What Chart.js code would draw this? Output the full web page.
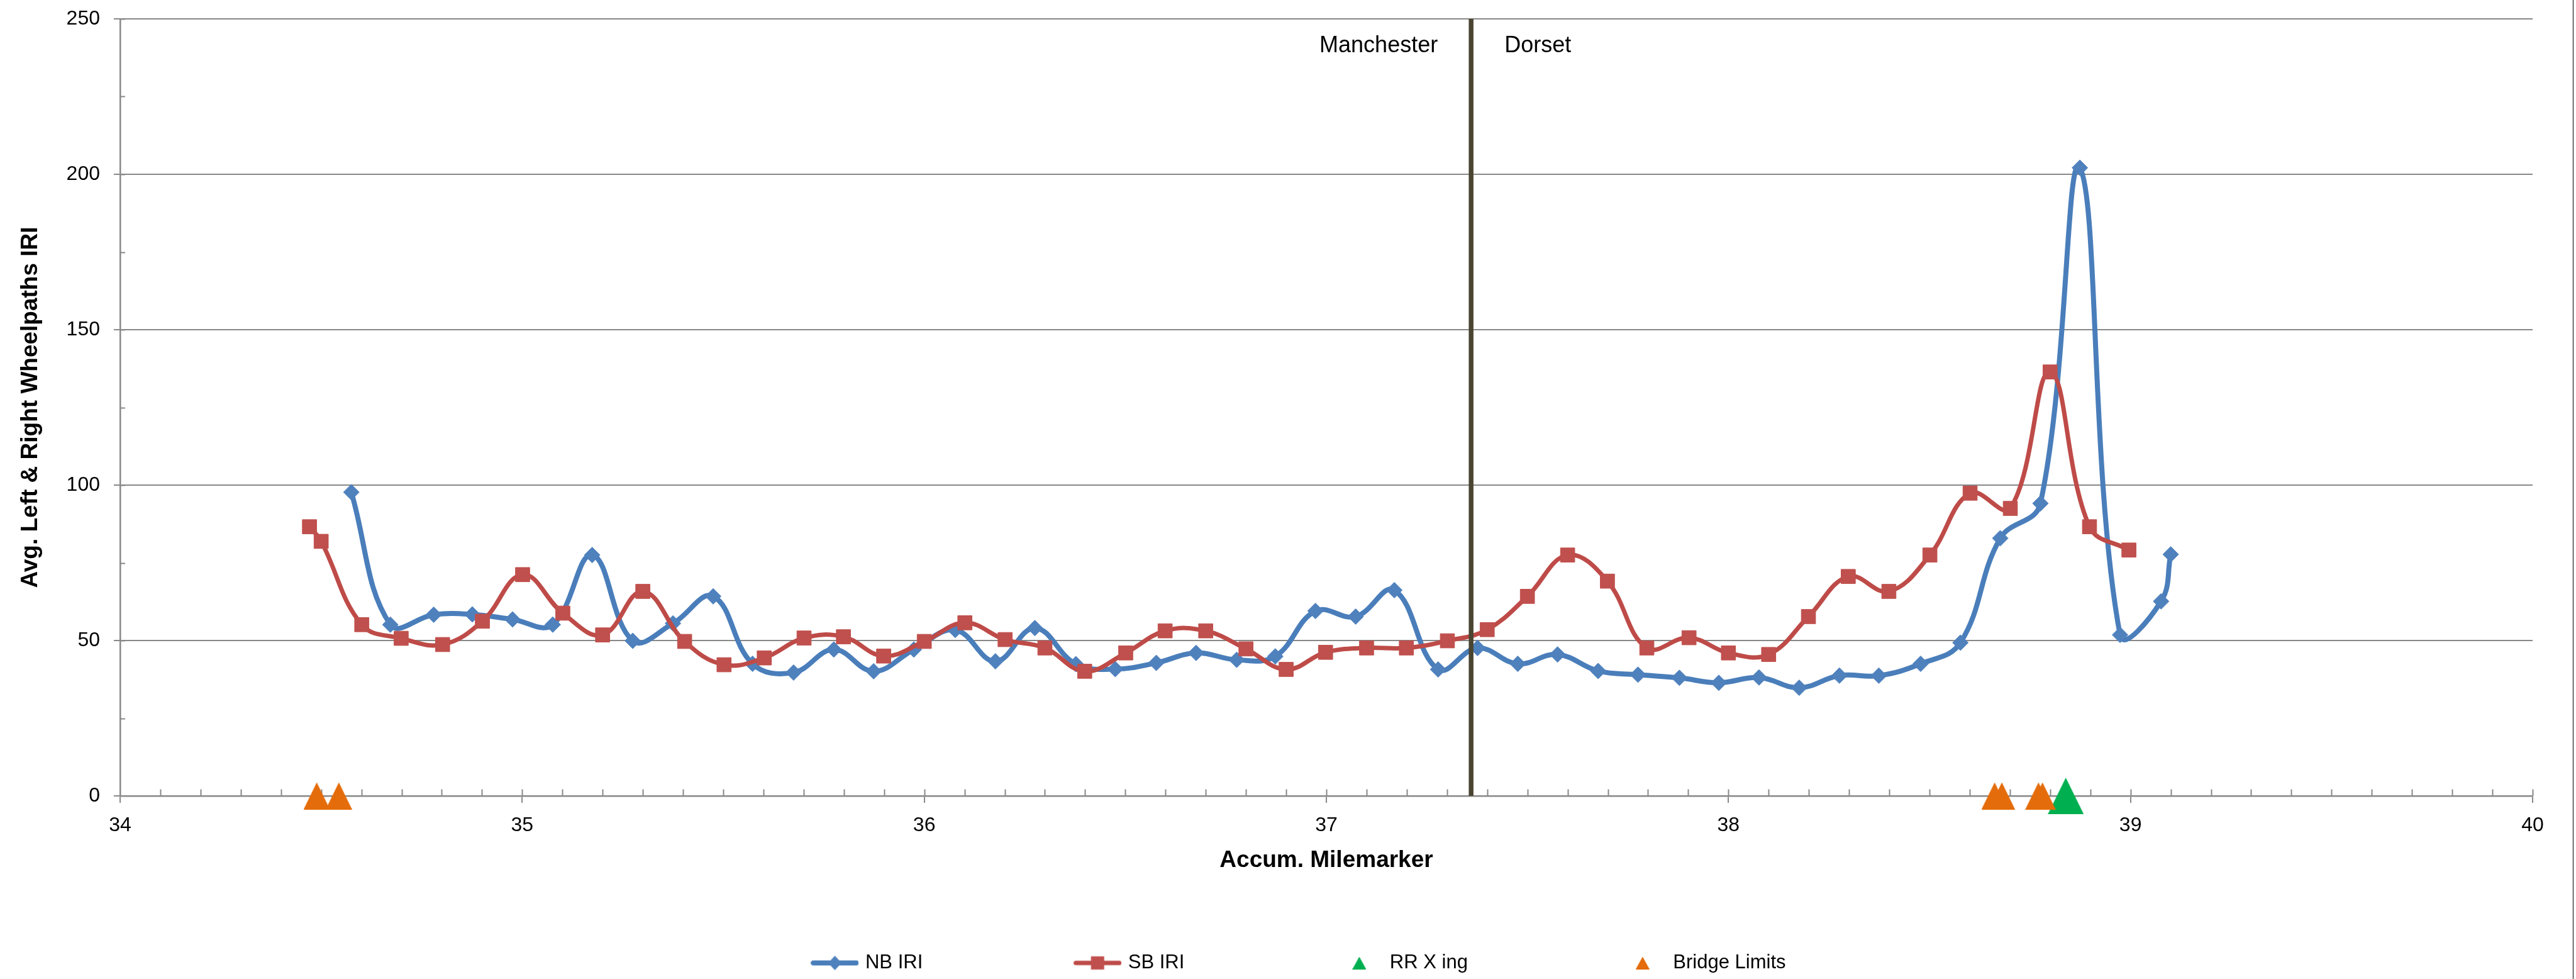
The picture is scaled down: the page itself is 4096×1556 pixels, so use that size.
<!DOCTYPE html>
<html>
<head>
<meta charset="utf-8">
<style>
html, body { margin: 0; padding: 0; background: #ffffff; }
canvas { display: block; }
</style>
<script src="https://cdn.jsdelivr.net/npm/chart.js@4.4.1/dist/chart.umd.min.js"></script>
</head>
<body>
<canvas id="c" width="4096" height="1556"></canvas>
<script>
// ---------------- data ----------------
const nbMiles = [34.575, 34.672, 34.780, 34.876, 34.976, 35.076, 35.174, 35.275, 35.375, 35.475,
  35.573, 35.675, 35.775, 35.874, 35.974, 36.077, 36.177, 36.275, 36.377, 36.475,
  36.577, 36.676, 36.777, 36.873, 36.973, 37.073, 37.169, 37.278, 37.376, 37.476,
  37.575, 37.676, 37.775, 37.878, 37.976, 38.076, 38.176, 38.276, 38.374, 38.478,
  38.577, 38.676, 38.776, 38.874, 38.974, 39.076, 39.100];
const nbIRI = [97.7, 55.1, 58.3, 58.4, 56.8, 55.1, 77.5, 49.9, 55.5, 64.2,
  42.5, 39.7, 47.1, 40.1, 47.1, 53.4, 43.3, 54.0, 42.4, 40.8,
  42.8, 46.0, 43.8, 44.9, 59.5, 57.7, 66.2, 40.7, 47.6, 42.5,
  45.5, 40.2, 39.0, 38.0, 36.4, 38.1, 34.8, 38.7, 38.7, 42.5,
  49.3, 82.9, 94.1, 202.1, 51.8, 62.6, 77.7];

const sbMiles = [34.471, 34.500, 34.601, 34.699, 34.802, 34.901,
  35.001, 35.101, 35.200, 35.300, 35.404, 35.502, 35.602, 35.701, 35.799, 35.899,
  36.000, 36.101, 36.201, 36.300, 36.399, 36.501, 36.599, 36.700, 36.800, 36.900,
  36.998, 37.100, 37.199, 37.301, 37.400, 37.500, 37.600, 37.699, 37.797, 37.902,
  38.000, 38.100, 38.199, 38.298, 38.399, 38.501, 38.601, 38.701, 38.800, 38.898,
  38.996];
const sbIRI = [86.6, 81.9, 55.1, 50.7, 48.7, 56.2,
  71.2, 58.8, 51.8, 65.8, 49.7, 42.2, 44.4, 50.8, 51.2, 45.0,
  49.7, 55.7, 50.3, 47.6, 40.1, 46.0, 53.1, 53.1, 47.3, 40.7,
  46.2, 47.6, 47.6, 49.9, 53.5, 64.2, 77.5, 69.1, 47.6, 50.9,
  46.0, 45.5, 57.7, 70.6, 65.8, 77.5, 97.4, 92.5, 136.4, 86.6,
  79.1];

const rrMiles = [38.839];
const rrIRI = [0];
const bridgeMiles = [34.489, 34.544, 38.662, 38.680, 38.771, 38.781];
const bridgeIRI = [0, 0, 0, 0, 0, 0];

const countyLineMiles = [37.36, 37.36];
const countyLineIRI = [0, 250];
const countyNames = ['Manchester', 'Dorset'];
const countyNameIRI = 239.3;

const seriesNames = ['NB IRI', 'SB IRI', 'RR X ing', 'Bridge Limits', 'County Line'];
const xTitle = 'Accum. Milemarker';
const yTitle = 'Avg. Left & Right Wheelpaths IRI';
const xRange = [34, 40];
const yRange = [0, 250];
const xMajorStep = 1, xMinorStep = 0.1;
const yMajorStep = 50, yMinorStep = 25;

// ---------------- styling ----------------
const FONT = "'Liberation Sans', Arial, Helvetica, sans-serif";
const GRID = '#888888';
const NB_LINE = '#4A7EBB', NB_MARK = '#4F81BD';
const SB_LINE = '#BE4B48', SB_MARK = '#C0504D';
const GREEN = '#00B050', ORANGE = '#E46C0A';
const DIVIDER = '#4A4531';

Chart.defaults.font.family = FONT;
Chart.defaults.color = '#000000';

function zip(xs, ys) { return xs.map((v, i) => ({ x: v, y: ys[i] })); }

function triangleIcon(w, h, color) {
  const c = document.createElement('canvas');
  c.width = w; c.height = h;
  const g = c.getContext('2d');
  g.fillStyle = color;
  g.beginPath(); g.moveTo(0, h); g.lineTo(w / 2, 0); g.lineTo(w, h); g.closePath(); g.fill();
  return c;
}
function lineIcon(color, lw, marker, mColor) {
  const c = document.createElement('canvas');
  c.width = 76; c.height = 30;
  const g = c.getContext('2d');
  g.strokeStyle = color; g.lineWidth = lw; g.lineCap = 'round';
  g.beginPath(); g.moveTo(lw / 2, 15); g.lineTo(76 - lw / 2, 15); g.stroke();
  g.fillStyle = mColor;
  g.beginPath();
  if (marker === 'diamond') {
    g.moveTo(38, 3.5); g.lineTo(48.75, 15); g.lineTo(38, 26.5); g.lineTo(27.25, 15);
  } else {
    g.rect(27.5, 4.5, 21, 21);
  }
  g.closePath(); g.fill();
  return c;
}

const orangeTri = triangleIcon(42, 43, ORANGE);
const greenTri = triangleIcon(57, 58, GREEN);
const legendIcons = [
  lineIcon(NB_LINE, 8, 'diamond', NB_MARK),
  lineIcon(SB_LINE, 7, 'square', SB_MARK),
  triangleIcon(22, 20, GREEN),
  triangleIcon(22, 20, ORANGE)
];

const decorations = {
  id: 'decorations',
  beforeDatasetsDraw(chart) {
    const { ctx, scales: { x, y } } = chart;
    const bottom = y.getPixelForValue(yRange[0]);
    const left = x.getPixelForValue(xRange[0]);
    ctx.save();
    ctx.strokeStyle = GRID;
    ctx.lineWidth = 2;
    ctx.beginPath();
    const nx = Math.round((xRange[1] - xRange[0]) / xMinorStep);
    for (let k = 1; k <= nx; k++) {
      const px = Math.round(x.getPixelForValue(xRange[0] + k * xMinorStep)) + 0.5;
      ctx.moveTo(px, bottom);
      ctx.lineTo(px, bottom - 10.5);
    }
    const ny = Math.round((yRange[1] - yRange[0]) / yMinorStep);
    for (let k = 1; k <= ny; k++) {
      const py = Math.round(y.getPixelForValue(yRange[0] + k * yMinorStep)) + 0.5;
      ctx.moveTo(left, py);
      ctx.lineTo(left + 8, py);
    }
    ctx.stroke();
    ctx.restore();
  },
  afterDatasetsDraw(chart) {
    const { ctx, scales: { x, y } } = chart;
    const lx = x.getPixelForValue(countyLineMiles[0]);
    const ly = y.getPixelForValue(countyNameIRI);
    ctx.save();
    ctx.fillStyle = '#000000';
    ctx.font = '36px ' + FONT;
    ctx.textBaseline = 'alphabetic';
    ctx.textAlign = 'right';
    ctx.fillText(countyNames[0], lx - 53, ly);
    ctx.textAlign = 'left';
    ctx.fillText(countyNames[1], lx + 53, ly);
    ctx.restore();
  },
  afterDraw(chart) {
    const { ctx } = chart;
    ctx.save();
    ctx.strokeStyle = '#222222';
    ctx.lineWidth = 1.2;
    ctx.beginPath();
    ctx.moveTo(chart.width - 4.5, 0);
    ctx.lineTo(chart.width - 4.5, chart.height);
    ctx.stroke();
    ctx.restore();
  }
};

const chart = new Chart(document.getElementById('c'), {
  type: 'line',
  data: {
    datasets: [
      {
        label: seriesNames[0], data: zip(nbMiles, nbIRI), order: 5,
        borderColor: NB_LINE, borderWidth: 8, tension: 0.4,
        borderJoinStyle: 'round', borderCapStyle: 'round',
        pointStyle: 'rectRot', pointRadius: 12.5,
        pointBackgroundColor: NB_MARK, pointBorderColor: NB_MARK, pointBorderWidth: 1,
        backgroundColor: NB_MARK
      },
      {
        label: seriesNames[1], data: zip(sbMiles, sbIRI), order: 4,
        borderColor: SB_LINE, borderWidth: 7, tension: 0.4,
        borderJoinStyle: 'round', borderCapStyle: 'round',
        pointStyle: 'rect', pointRadius: 16,
        pointBackgroundColor: SB_MARK, pointBorderColor: SB_MARK, pointBorderWidth: 1,
        backgroundColor: SB_MARK
      },
      {
        label: seriesNames[2], data: zip(rrMiles, rrIRI), order: 3,
        showLine: false, clip: false,
        pointStyle: greenTri, pointRadius: 29,
        backgroundColor: GREEN, borderColor: GREEN
      },
      {
        label: seriesNames[3], data: zip(bridgeMiles, bridgeIRI), order: 2,
        showLine: false, clip: false,
        pointStyle: orangeTri, pointRadius: 22,
        backgroundColor: ORANGE, borderColor: ORANGE
      },
      {
        label: seriesNames[4], data: zip(countyLineMiles, countyLineIRI), order: 1,
        borderColor: DIVIDER, borderWidth: 7.5, tension: 0,
        pointRadius: 0, clip: false
      }
    ]
  },
  options: {
    responsive: false,
    devicePixelRatio: 1,
    animation: false,
    events: [],
    layout: { padding: { left: 38, right: 0, top: 25, bottom: 0 } },
    scales: {
      x: {
        type: 'linear', min: xRange[0], max: xRange[1],
        ticks: { stepSize: xMajorStep, font: { size: 32 }, color: '#000000', padding: 17, maxRotation: 0, autoSkip: false },
        grid: { drawOnChartArea: false, drawTicks: true, tickLength: 11, color: GRID, lineWidth: 2 },
        border: { display: true, color: GRID, width: 2.5 },
        title: { display: true, text: xTitle, font: { size: 37, weight: 'bold' }, color: '#000000', padding: { top: 0, bottom: 125 } },
        afterFit(s) { s.height = 250; }
      },
      y: {
        type: 'linear', min: yRange[0], max: yRange[1],
        ticks: { stepSize: yMajorStep, font: { size: 32 }, color: '#000000', padding: 22 },
        grid: { color: GRID, lineWidth: 2, tickLength: 10 },
        border: { display: true, color: GRID, width: 2.5 },
        title: { display: true, text: yTitle, font: { size: 37, weight: 'bold' }, color: '#000000', padding: { top: -11, bottom: 0 } },
        afterFit(s) { s.width = 153; s.paddingTop = 19; s.paddingBottom = 19; }
      },
      yPad: {
        type: 'linear', position: 'right', display: true,
        grid: { display: false }, ticks: { display: false }, border: { display: false },
        afterFit(s) { s.width = 69; s.paddingTop = 0; s.paddingBottom = 0; }
      }
    },
    plugins: {
      tooltip: { enabled: false },
      legend: {
        position: 'bottom',
        labels: {
          usePointStyle: true,
          pointStyleWidth: 66,
          padding: 245,
          font: { size: 31 },
          color: '#000000',
          filter: (item) => item.datasetIndex < 4,
          sort: (a, b) => a.datasetIndex - b.datasetIndex,
          generateLabels(chart) {
            const items = Chart.defaults.plugins.legend.labels.generateLabels(chart);
            return items.map((it) => Object.assign(it, {
              pointStyle: legendIcons[it.datasetIndex] || it.pointStyle,
              fontColor: '#000000'
            }));
          }
        },
        title: { display: true, text: '', font: { size: 10, lineHeight: 1.2 }, padding: { top: 0, bottom: -257 } }
      }
    }
  },
  plugins: [decorations]
});
</script>
</body>
</html>
